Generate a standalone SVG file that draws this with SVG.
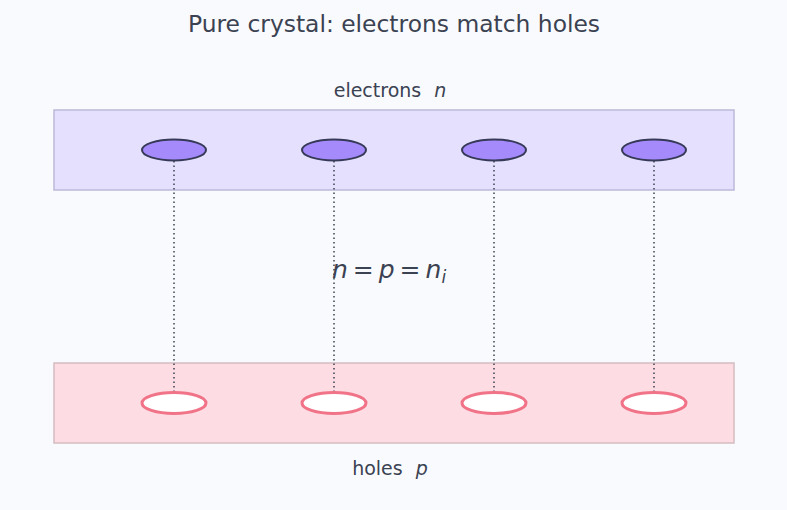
<svg xmlns="http://www.w3.org/2000/svg" width="787" height="510" viewBox="0 0 787 510">
<style>
text{font-family:"DejaVu Sans",sans-serif;fill:#3b4252}
.band-e{fill:#e5e0fd;stroke:#bcb8d8;stroke-width:1.5}
.band-h{fill:#fddde3;stroke:#d4bcc1;stroke-width:1.5}
.el{fill:#a48afb;stroke:#363a58;stroke-width:2}
.ho{fill:#ffffff;stroke:#f07387;stroke-width:3}
.link{stroke:#3b4252;stroke-width:1.5;stroke-dasharray:1.5 3;fill:none}
.it{font-style:italic}
</style>
<rect width="787" height="510" fill="#f9fafd"/>
<text x="394" y="32" font-size="23.4" text-anchor="middle">Pure crystal: electrons match holes</text>
<g id="electron-band">
<rect class="band-e" x="54" y="110" width="680" height="80"/>
<text x="390" y="97" font-size="19" text-anchor="middle">electrons <tspan class="it" dx="7">n</tspan></text>
</g>
<g id="hole-band">
<rect class="band-h" x="54" y="363" width="680" height="80"/>
<text x="390" y="475" font-size="19" text-anchor="middle">holes <tspan class="it" dx="7">p</tspan></text>
</g>
<g id="connectors">
<line class="link" x1="174" y1="161" x2="174" y2="392"/>
<line class="link" x1="334" y1="161" x2="334" y2="392"/>
<line class="link" x1="494" y1="161" x2="494" y2="392"/>
<line class="link" x1="654" y1="161" x2="654" y2="392"/>
</g>
<g id="e1"><ellipse class="el" cx="174" cy="150" rx="32" ry="10.5"/></g>
<g id="e2"><ellipse class="el" cx="334" cy="150" rx="32" ry="10.5"/></g>
<g id="e3"><ellipse class="el" cx="494" cy="150" rx="32" ry="10.5"/></g>
<g id="e4"><ellipse class="el" cx="654" cy="150" rx="32" ry="10.5"/></g>
<g id="h1"><ellipse class="ho" cx="174" cy="403" rx="32" ry="10.5"/></g>
<g id="h2"><ellipse class="ho" cx="334" cy="403" rx="32" ry="10.5"/></g>
<g id="h3"><ellipse class="ho" cx="494" cy="403" rx="32" ry="10.5"/></g>
<g id="h4"><ellipse class="ho" cx="654" cy="403" rx="32" ry="10.5"/></g>
<g id="formula">
<text x="389" y="278" font-size="25" text-anchor="middle"><tspan class="it">n</tspan><tspan dx="5">=</tspan><tspan class="it" dx="5">p</tspan><tspan dx="5">=</tspan><tspan class="it" dx="5">n</tspan><tspan class="it" font-size="17" dy="5">i</tspan></text>
</g>
</svg>
